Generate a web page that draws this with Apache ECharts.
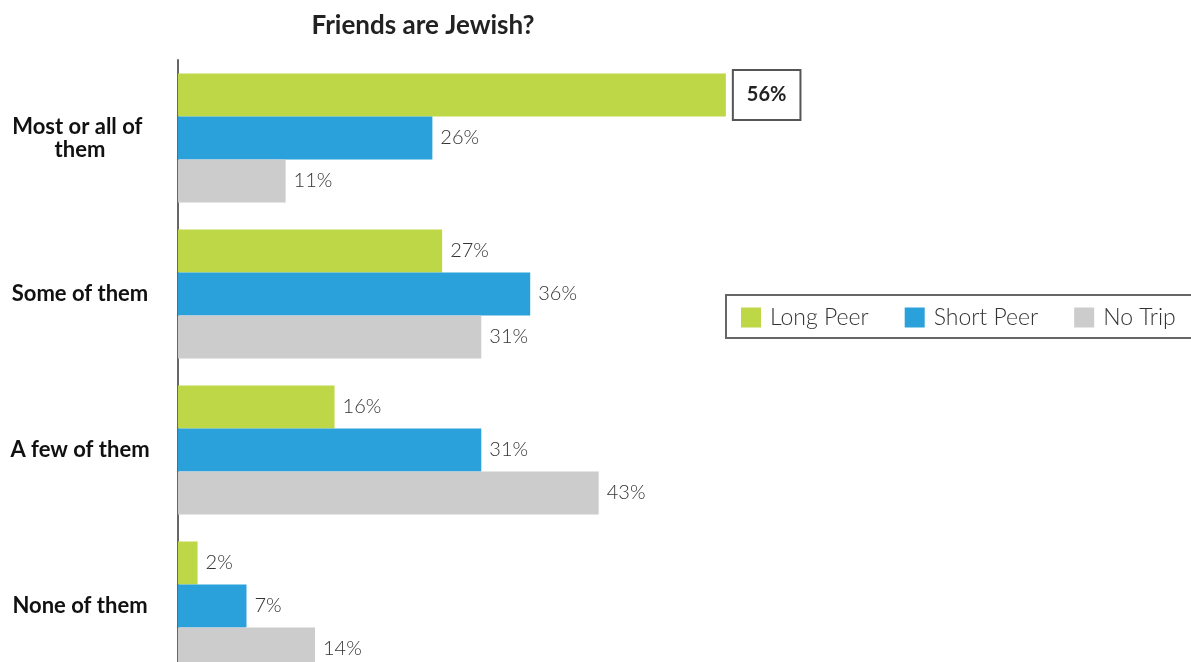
<!DOCTYPE html>
<html>
<head>
<meta charset="utf-8">
<script src="https://cdn.jsdelivr.net/npm/echarts@6/dist/echarts.min.js"></script>
<style>
  html, body { margin: 0; padding: 0; background: #fff; }
  #chart { width: 1191px; height: 662px; }
</style>
</head>
<body>
<div id="chart"></div>
<script>
// Share of respondents by how many of their friends are Jewish
const categories = ['Most or all of them', 'Some of them', 'A few of them', 'None of them'];
const seriesNames = ['Long Peer', 'Short Peer', 'No Trip'];
const longPeer = [56, 27, 16, 2];
const shortPeer = [26, 36, 31, 7];
const noTrip = [11, 31, 43, 14];
const colors = ['#bed747', '#2aa1db', '#cccccc'];

const FONT = 'Lato, "Open Sans", sans-serif';

const plainLabel = {
  show: true,
  position: 'right',
  distance: 8,
  formatter: '{c}%',
  fontFamily: FONT,
  fontSize: 20,
  fontWeight: 300,
  color: '#333'
};

function buildData(values, highlightIndex) {
  return values.map((v, i) => {
    if (i !== highlightIndex) return v;
    return {
      value: v,
      label: {
        show: true,
        position: 'right',
        distance: 8,
        formatter: '{c}%',
        fontFamily: FONT,
        fontSize: 20,
        fontWeight: 'bold',
        color: '#222',
        backgroundColor: '#fff',
        borderColor: '#555',
        borderWidth: 2,
        padding: [15, 13, 13, 13]
      }
    };
  });
}

const seriesValues = [longPeer, shortPeer, noTrip];

const chart = echarts.init(document.getElementById('chart'));
chart.setOption({
  animation: false,
  title: {
    text: 'Friends are Jewish?',
    left: 418,
    textAlign: 'center',
    top: 8,
    textStyle: { fontFamily: FONT, fontSize: 26, fontWeight: 'bold', color: '#222' }
  },
  legend: {
    data: seriesNames,
    left: 726,
    top: 295,
    width: 520,
    orient: 'horizontal',
    itemWidth: 20,
    itemHeight: 20,
    itemGap: 36,
    icon: 'rect',
    padding: [11, 40, 9, 15],
    borderColor: '#666',
    borderWidth: 2,
    textStyle: { fontFamily: FONT, fontSize: 23, fontWeight: 300, color: '#333', padding: [2, 0, 0, 4] }
  },
  grid: {
    left: 178,
    top: 60,
    width: 587,
    height: 624,
    containLabel: false,
    outerBoundsMode: 'none'
  },
  xAxis: {
    type: 'value',
    min: 0,
    max: 60,
    show: false
  },
  yAxis: {
    type: 'category',
    data: categories,
    inverse: true,
    axisLine: { show: true, lineStyle: { color: '#666', width: 2 } },
    axisTick: { show: false },
    axisLabel: {
      margin: 98,
      align: 'center',
      width: 160,
      overflow: 'break',
      lineHeight: 23,
      fontFamily: FONT,
      fontSize: 22,
      fontWeight: 'bold',
      color: '#111'
    }
  },
  series: seriesNames.map((name, s) => ({
    name: name,
    type: 'bar',
    barWidth: 43,
    barGap: '0%',
    itemStyle: { color: colors[s] },
    label: plainLabel,
    data: buildData(seriesValues[s], s === 0 ? 0 : -1)
  }))
});
</script>
</body>
</html>
